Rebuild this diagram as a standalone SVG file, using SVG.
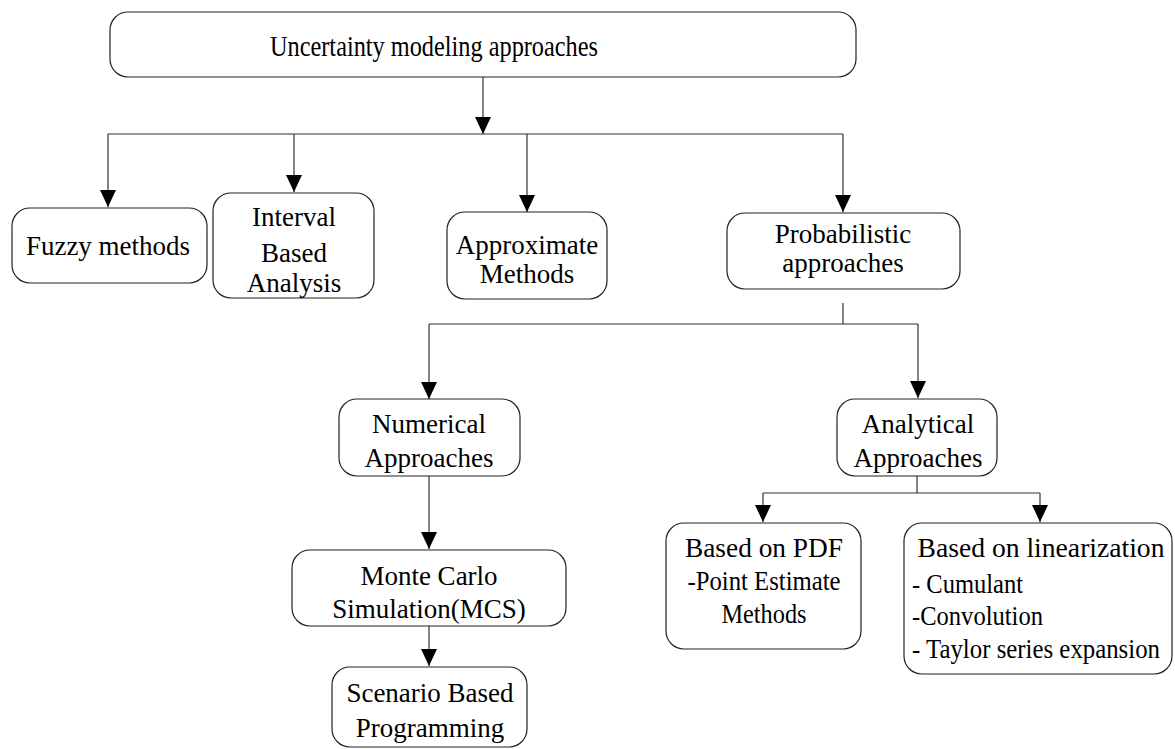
<svg xmlns="http://www.w3.org/2000/svg" width="1175" height="749" viewBox="0 0 1175 749">
<style>
.box{fill:#fff;stroke:#222;stroke-width:1.2}
.t{font-family:"Liberation Serif","Times New Roman",serif;font-size:27px;fill:#000;text-anchor:middle}
.l{text-anchor:start}
.c{fill:none;stroke:#333;stroke-width:1.2}
</style>
<defs>
<marker id="ah" markerUnits="userSpaceOnUse" markerWidth="17" markerHeight="16" refX="17" refY="8" orient="auto">
<path d="M0,0 L17,8 L0,16 Z" fill="#000"/>
</marker>
</defs>
<rect width="1175" height="749" fill="#fff"/>
<g id="connectors">
<path class="c" d="M483,77 V134" marker-end="url(#ah)"/>
<path class="c" d="M108,134 H843"/>
<path class="c" d="M108,134 V207" marker-end="url(#ah)"/>
<path class="c" d="M294,134 V192" marker-end="url(#ah)"/>
<path class="c" d="M527,134 V212" marker-end="url(#ah)"/>
<path class="c" d="M843,134 V212" marker-end="url(#ah)"/>
<path class="c" d="M843,303 V324"/>
<path class="c" d="M429,324 H918"/>
<path class="c" d="M429,324 V399" marker-end="url(#ah)"/>
<path class="c" d="M918,324 V398" marker-end="url(#ah)"/>
<path class="c" d="M429,476 V549" marker-end="url(#ah)"/>
<path class="c" d="M429,626 V666" marker-end="url(#ah)"/>
<path class="c" d="M917,476 V493 M763,493 H1040"/>
<path class="c" d="M763,493 V522" marker-end="url(#ah)"/>
<path class="c" d="M1040,493 V522" marker-end="url(#ah)"/>
</g>
<g id="n-root">
<rect class="box" x="110" y="12" width="746" height="65" rx="18"/>
<text class="t" x="434" y="56" style="font-size:29px" textLength="328" lengthAdjust="spacingAndGlyphs">Uncertainty modeling approaches</text>
</g>
<g id="n-fuzzy">
<rect class="box" x="12" y="208" width="195" height="75" rx="18"/>
<text class="t" x="108" y="255">Fuzzy methods</text>
</g>
<g id="n-interval">
<rect class="box" x="213" y="193" width="161" height="105" rx="18"/>
<text class="t" x="294" y="226">Interval</text>
<text class="t" x="294" y="262">Based</text>
<text class="t" x="294" y="292">Analysis</text>
</g>
<g id="n-approx">
<rect class="box" x="447" y="212" width="160" height="87" rx="18"/>
<text class="t" x="527" y="254">Approximate</text>
<text class="t" x="527" y="283">Methods</text>
</g>
<g id="n-prob">
<rect class="box" x="727" y="213" width="233" height="76" rx="18"/>
<text class="t" x="843" y="243">Probabilistic</text>
<text class="t" x="843" y="272">approaches</text>
</g>
<g id="n-numerical">
<rect class="box" x="339" y="399" width="181" height="77" rx="18"/>
<text class="t" x="429" y="433">Numerical</text>
<text class="t" x="429" y="467">Approaches</text>
</g>
<g id="n-analytical">
<rect class="box" x="837" y="399" width="160" height="77" rx="18"/>
<text class="t" x="918" y="433">Analytical</text>
<text class="t" x="918" y="467">Approaches</text>
</g>
<g id="n-mcs">
<rect class="box" x="292" y="550" width="274" height="76" rx="18"/>
<text class="t" x="429" y="585">Monte Carlo</text>
<text class="t" x="429" y="618">Simulation(MCS)</text>
</g>
<g id="n-scenario">
<rect class="box" x="332" y="667" width="195" height="80" rx="18"/>
<text class="t" x="430" y="702">Scenario Based</text>
<text class="t" x="430" y="737">Programming</text>
</g>
<g id="n-pdf">
<rect class="box" x="666" y="523" width="195" height="126" rx="18"/>
<text class="t" x="764" y="557" textLength="158" lengthAdjust="spacingAndGlyphs">Based on PDF</text>
<text class="t" x="764" y="590" textLength="153" lengthAdjust="spacingAndGlyphs">-Point Estimate</text>
<text class="t" x="764" y="623" textLength="85" lengthAdjust="spacingAndGlyphs">Methods</text>
</g>
<g id="n-lin">
<rect class="box" x="904" y="523" width="268" height="151" rx="18"/>
<text class="t" x="1041" y="557" textLength="247" lengthAdjust="spacingAndGlyphs">Based on linearization</text>
<text class="t l" x="912" y="593" textLength="111" lengthAdjust="spacingAndGlyphs">- Cumulant</text>
<text class="t l" x="912" y="625" textLength="131" lengthAdjust="spacingAndGlyphs">-Convolution</text>
<text class="t l" x="912" y="658" textLength="248" lengthAdjust="spacingAndGlyphs">- Taylor series expansion</text>
</g>
</svg>
